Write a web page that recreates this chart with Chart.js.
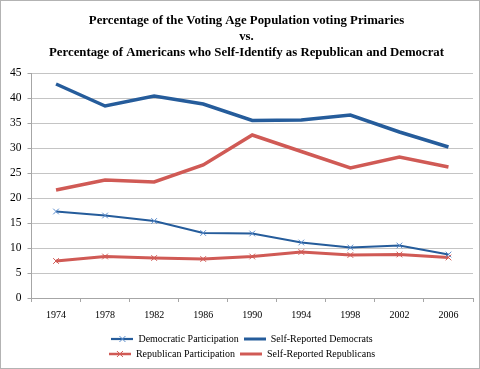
<!DOCTYPE html>
<html>
<head>
<meta charset="utf-8">
<script src="https://cdn.jsdelivr.net/npm/chart.js@4"></script>
<style>
  body { margin: 0; background: #fff; }
  #wrap { width: 480px; height: 369px; box-sizing: border-box; border: 1px solid #b3b3b3; }
  canvas { display: block; }
</style>
</head>
<body>
<div id="wrap"><canvas id="myChart" width="478" height="367"></canvas></div>
<script>
// 데이터
const years = ["1974", "1978", "1982", "1986", "1990", "1994", "1998", "2002", "2006"];
const demParticipation = [17.3, 16.5, 15.4, 13.0, 12.9, 11.1, 10.1, 10.5, 8.7];
const selfDemocrats = [42.8, 38.4, 40.4, 38.8, 35.5, 35.6, 36.6, 33.2, 30.2];
const repParticipation = [7.4, 8.3, 8.0, 7.8, 8.3, 9.2, 8.6, 8.7, 8.1];
const selfRepublicans = [21.6, 23.6, 23.2, 26.6, 32.6, 29.3, 26.0, 28.2, 26.2];
const yTicks = [0, 5, 10, 15, 20, 25, 30, 35, 40, 45];

const titleLines = [
    "Percentage of the Voting Age Population voting Primaries",
    "vs.",
    "Percentage of Americans who Self-Identify as Republican and Democrat"
];

const blue = "#255c9b";
const blueMark = "#5a8ccc";
const red = "#d05a55";

const serif = "'Liberation Serif', 'Times New Roman', serif";

// 범례용 작은 그림 (선 + 마커)
const legendIcon = (color, width, mark) => {
    const c = document.createElement("canvas");
    c.width = 22;
    c.height = 8;
    const g = c.getContext("2d");
    g.strokeStyle = color;
    g.lineWidth = width;
    g.beginPath();
    g.moveTo(0, 4);
    g.lineTo(22, 4);
    g.stroke();
    if (mark) {
        g.strokeStyle = mark;
        g.lineWidth = 1;
        g.beginPath();
        g.moveTo(8, 1); g.lineTo(14, 7);
        g.moveTo(14, 1); g.lineTo(8, 7);
        g.stroke();
    }
    return c;
};

// 범례를 두 줄로, 제목/범례 위치 조금 오른쪽으로
const twoRowLegend = {
    id: "twoRowLegend",
    afterInit(chart) {
        const legend = chart.legend;
        const orig = legend.update.bind(legend);
        legend.update = (mw, mh, m) => orig(Math.min(mw, 300), mh, m);
    },
    afterLayout(chart) {
        if (chart.titleBlock) chart.titleBlock.left += 16;
        if (chart.legend) chart.legend.left += 7;
    }
};

const ctx = document.getElementById("myChart");

new Chart(ctx, {
    type: "line",
    data: {
        labels: years,
        datasets: [
            {
                label: "Democratic Participation",
                data: demParticipation,
                borderColor: blue,
                backgroundColor: blue,
                borderWidth: 2.2,
                pointStyle: "crossRot",
                pointRadius: 4,
                pointBorderColor: blueMark,
                pointBorderWidth: 1,
                icon: legendIcon(blue, 2.2, blueMark)
            },
            {
                label: "Self-Reported Democrats",
                data: selfDemocrats,
                borderColor: blue,
                backgroundColor: blue,
                borderWidth: 3.5,
                pointRadius: 0,
                icon: legendIcon(blue, 3, null)
            },
            {
                label: "Republican Participation",
                data: repParticipation,
                borderColor: red,
                backgroundColor: red,
                borderWidth: 3.2,
                pointStyle: "crossRot",
                pointRadius: 4,
                pointBorderColor: red,
                pointBorderWidth: 1,
                icon: legendIcon(red, 2.5, red)
            },
            {
                label: "Self-Reported Republicans",
                data: selfRepublicans,
                borderColor: red,
                backgroundColor: red,
                borderWidth: 3.5,
                pointRadius: 0,
                icon: legendIcon(red, 3, null)
            }
        ]
    },
    options: {
        responsive: false,
        animation: false,
        layout: { padding: { left: 3, right: 6, top: 0, bottom: -1 } },
        plugins: {
            title: {
                display: true,
                text: titleLines,
                color: "#000",
                font: { family: serif, size: 12.8, weight: "bold", lineHeight: 1.25 },
                padding: { top: 12, bottom: 12 }
            },
            legend: {
                position: "bottom",
                labels: {
                    color: "#000",
                    font: { family: serif, size: 10 },
                    usePointStyle: true,
                    pointStyleWidth: 22,
                    boxHeight: 8,
                    padding: 5,
                    generateLabels(chart) {
                        return chart.data.datasets.map((ds, i) => ({
                            text: ds.label,
                            pointStyle: ds.icon,
                            fillStyle: ds.borderColor,
                            strokeStyle: ds.borderColor,
                            lineWidth: 0,
                            datasetIndex: i,
                            fontColor: "#000"
                        }));
                    }
                }
            },
            tooltip: { enabled: false }
        },
        scales: {
            x: {
                offset: true,
                grid: {
                    offset: true,
                    drawOnChartArea: false,
                    drawTicks: true,
                    tickLength: 4,
                    color: "#a6a6a6"
                },
                border: { color: "#a6a6a6" },
                ticks: {
                    color: "#000",
                    font: { family: serif, size: 10 },
                    padding: 7,
                    maxRotation: 0
                },
                afterFit(scale) {
                    scale.height += 1;
                }
            },
            y: {
                min: 0,
                max: 45,
                afterBuildTicks(scale) {
                    scale.ticks = yTicks.map(v => ({ value: v }));
                },
                grid: {
                    color: "#c4c4c4",
                    tickLength: 4,
                    tickColor: "#a6a6a6"
                },
                border: { color: "#a6a6a6" },
                ticks: {
                    color: "#000",
                    font: { family: serif, size: 11.5 },
                    padding: 6
                }
            }
        }
    },
    plugins: [twoRowLegend]
});
</script>
</body>
</html>
